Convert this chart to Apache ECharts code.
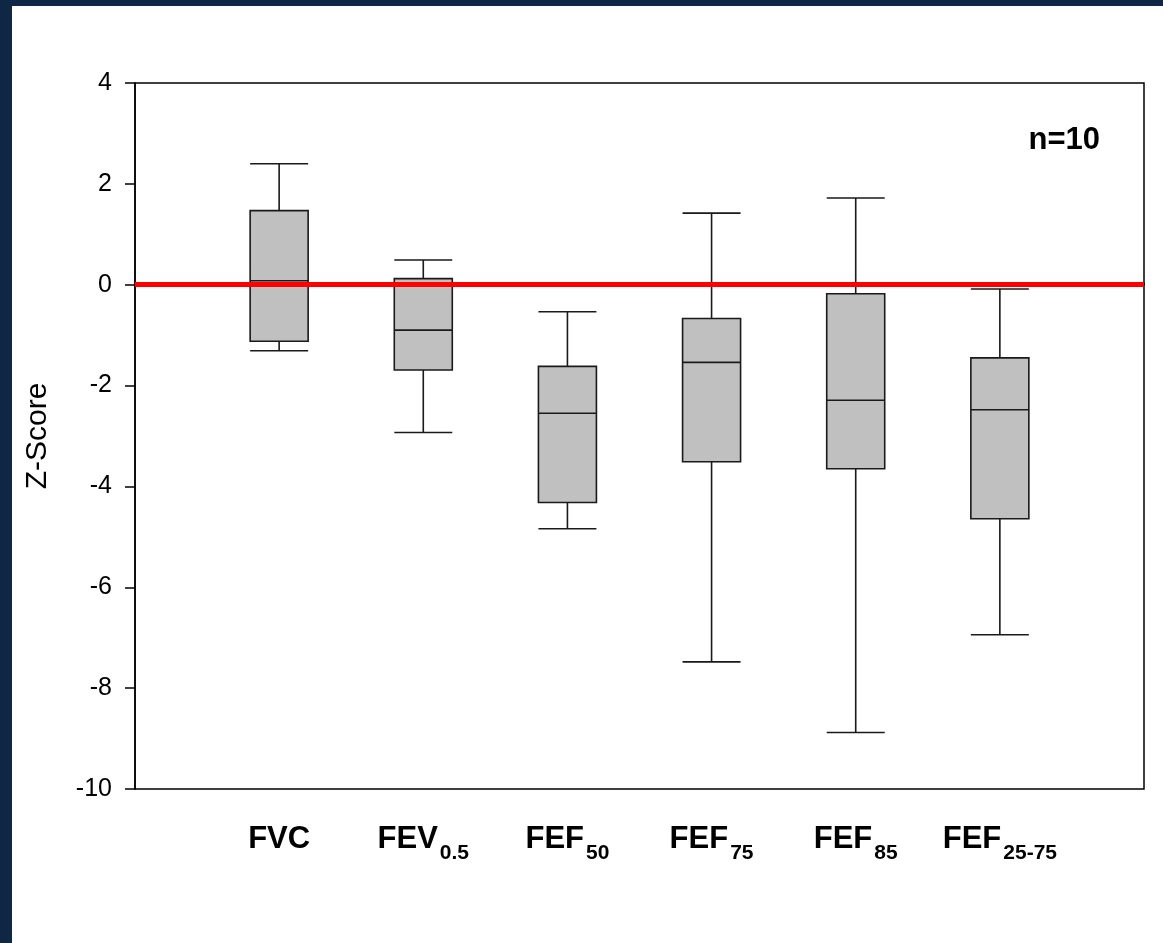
<!DOCTYPE html>
<html>
<head>
<meta charset="utf-8">
<script src="https://cdn.jsdelivr.net/npm/echarts@6/dist/echarts.min.js"></script>
<style>
html,body{margin:0;padding:0;width:1163px;height:943px;background:#0f2645;overflow:hidden;}
#chart{position:absolute;left:12px;top:6px;width:1151px;height:937px;background:#ffffff;}
</style>
</head>
<body>
<div id="chart"></div>
<script>
// ---- data ----
var categories = ['FVC', 'FEV0.5', 'FEF50', 'FEF75', 'FEF85', 'FEF25-75'];
var labelMain = ['FVC', 'FEV', 'FEF', 'FEF', 'FEF', 'FEF'];
var labelSub = ['', '0.5', '50', '75', '85', '25-75'];
var whiskerLow = [-1.31, -2.93, -4.84, -7.48, -8.88, -6.94];
var q1 = [-1.12, -1.69, -4.32, -3.51, -3.65, -4.64];
var median = [0.08, -0.90, -2.55, -1.54, -2.29, -2.48];
var q3 = [1.47, 0.12, -1.62, -0.67, -0.18, -1.45];
var whiskerHigh = [2.40, 0.49, -0.535, 1.42, 1.72, -0.085];
var yTicks = [-10, -8, -6, -4, -2, 0, 2, 4];
var refValue = 0;
var nText = 'n=10';
var yName = 'Z-Score';

// axis slots: an empty slot on each side of the six boxes
var axisCats = [''].concat(categories).concat(['']);
var source = categories.map(function (c, i) {
  return [c, whiskerLow[i], q1[i], median[i], q3[i], whiskerHigh[i]];
});

var FONT = '"Liberation Sans", Arial, Helvetica, sans-serif';
var chart = echarts.init(document.getElementById('chart'));
chart.setOption({
  backgroundColor: '#ffffff',
  animation: false,
  textStyle: { fontFamily: FONT },
  grid: {
    left: 123, top: 77, right: 19, bottom: 154,
    show: true, borderColor: '#000', borderWidth: 1.5, backgroundColor: 'transparent'
  },
  dataset: {
    dimensions: ['cat', 'min', 'Q1', 'median', 'Q3', 'max'],
    source: source
  },
  xAxis: {
    type: 'category',
    data: axisCats,
    boundaryGap: false,
    axisLine: { lineStyle: { color: '#000', width: 1.5 } },
    axisTick: { show: true, inside: true, length: 2, lineStyle: { color: '#000' } },
    splitLine: { show: false },
    axisLabel: {
      interval: 0,
      margin: 32,
      color: '#000',
      fontFamily: FONT,
      formatter: function (v) {
        var i = categories.indexOf(v);
        if (i < 0) return '';
        return '{b|' + labelMain[i] + '}' + (labelSub[i] ? '{s|' + labelSub[i] + '}' : '');
      },
      rich: {
        b: { fontSize: 31, fontWeight: 'bold', color: '#000', fontFamily: FONT, lineHeight: 36 },
        s: { fontSize: 21, fontWeight: 'bold', color: '#000', fontFamily: FONT, lineHeight: 21, padding: [29, 0, 0, 2] }
      }
    }
  },
  yAxis: {
    type: 'value',
    min: yTicks[0],
    max: yTicks[yTicks.length - 1],
    interval: 2,
    name: yName,
    nameLocation: 'middle',
    nameRotate: 90,
    nameGap: 82,
    nameTextStyle: { fontSize: 30, color: '#000', fontFamily: FONT },
    axisLine: { show: true, lineStyle: { color: '#000', width: 1.5 } },
    axisTick: { show: true, inside: false, length: 10, lineStyle: { color: '#000', width: 1.5 } },
    splitLine: { show: false },
    axisLabel: { fontSize: 25, color: '#000', margin: 23, fontFamily: FONT }
  },
  series: [{
    type: 'boxplot',
    encode: { x: 'cat', y: ['min', 'Q1', 'median', 'Q3', 'max'] },
    boxWidth: [58, 58],
    itemStyle: { color: '#c0c0c0', borderColor: '#1a1a1a', borderWidth: 1.6 },
    emphasis: { disabled: true },
    markLine: {
      silent: true,
      symbol: ['none', 'none'],
      label: { show: false },
      lineStyle: { color: '#ff0000', width: 5, type: 'solid' },
      data: [{ yAxis: refValue }],
      animation: false
    }
  }],
  graphic: [{
    type: 'text',
    right: 1151 - 1088,
    top: 119,
    style: { text: nText, fontSize: 31, fontWeight: 'bold', fill: '#000', fontFamily: FONT }
  }]
});
</script>
</body>
</html>
